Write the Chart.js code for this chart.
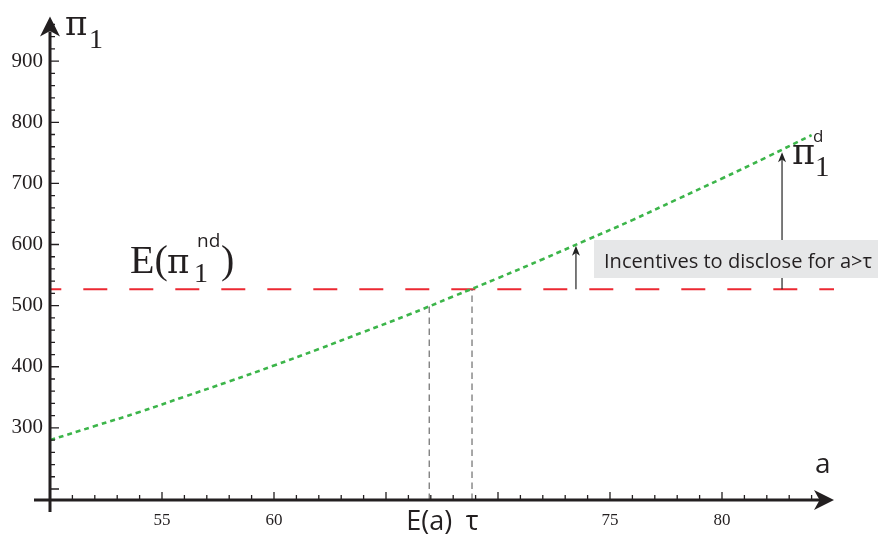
<!DOCTYPE html>
<html><head><meta charset="utf-8">
<script src="https://cdn.jsdelivr.net/npm/chart.js@4/dist/chart.umd.min.js"></script>
<style>html,body{margin:0;padding:0;background:#fff}#wrap{width:882px;height:535px;position:relative}</style>
</head><body><div id="wrap"><canvas id="c" width="882" height="535"></canvas></div>
<script>
// ---- data ----
const aValues        = [50, 52, 54, 56, 58, 60, 62, 64, 66, 68, 70, 72, 74, 76, 78, 80, 82, 84];
const profitDisclose = [280, 303, 326, 351, 376, 402, 429, 457, 485, 515, 545, 576, 608, 640, 674, 708, 743, 779];
const noDiscloseA    = [50, 85];
const noDiscloseVal  = [527, 527];
const xLabelTicks    = [55, 60, 75, 80];
const yLabelTicks    = [300, 400, 500, 600, 700, 800, 900];
const markerA        = [66.93, 68.84];        // E(a), tau
const markerTop      = [499, 527];            // where the dashed drops start
const markerLabels   = ['E(a)', 'τ'];
const arrowA         = [73.48, 82.68];
const arrowTip       = [598, 751];
const boxText        = 'Incentives to disclose for a>τ';

const SERIF = '"Liberation Serif", "DejaVu Serif", serif';
const PI    = '"DejaVu Serif", serif';
const SANS  = '"Open Sans", "Liberation Sans", sans-serif';

function arrowHead(ctx, x, y, dir, len, half, color) {
  ctx.save();
  ctx.fillStyle = color;
  ctx.beginPath();
  if (dir === 'up') {
    ctx.moveTo(x, y);
    ctx.lineTo(x + half, y + len);
    ctx.lineTo(x, y + len * 0.72);
    ctx.lineTo(x - half, y + len);
  } else {
    ctx.moveTo(x, y);
    ctx.lineTo(x - len, y - half);
    ctx.lineTo(x - len * 0.72, y);
    ctx.lineTo(x - len, y + half);
  }
  ctx.closePath();
  ctx.fill();
  ctx.restore();
}

const decor = {
  id: 'decor',
  afterDatasetsDraw(chart) {
    const ctx = chart.ctx;
    const xs = chart.scales.x, ys = chart.scales.y;
    const x0 = xs.getPixelForValue(xs.min), x1 = xs.getPixelForValue(xs.max);
    const y0 = ys.getPixelForValue(ys.min), y1 = ys.getPixelForValue(ys.max);
    ctx.save();
    // dashed drop lines
    ctx.strokeStyle = '#6d6d6d';
    ctx.lineWidth = 1.2;
    ctx.setLineDash([6.5, 4.5]);
    markerA.forEach((a, i) => {
      const px = xs.getPixelForValue(a);
      ctx.beginPath();
      ctx.moveTo(px, y0);
      ctx.lineTo(px, ys.getPixelForValue(markerTop[i]));
      ctx.stroke();
    });
    ctx.setLineDash([]);
    // annotation arrows
    ctx.strokeStyle = '#222';
    ctx.lineWidth = 1.2;
    arrowA.forEach((a, i) => {
      const px = xs.getPixelForValue(a);
      const base = ys.getPixelForValue(noDiscloseVal[0]);
      const tip = ys.getPixelForValue(arrowTip[i]);
      ctx.beginPath();
      ctx.moveTo(px, base);
      ctx.lineTo(px, tip + 6);
      ctx.stroke();
      arrowHead(ctx, px, tip, 'up', 10, 4, '#222');
    });
    // grey box with text
    ctx.fillStyle = '#e6e7e8';
    ctx.fillRect(594, 240, 284, 38);
    ctx.fillStyle = '#231f20';
    let fs = 18;
    ctx.font = fs + 'px ' + SANS;
    const w = ctx.measureText(boxText).width;
    fs = fs * 268 / w;
    ctx.font = fs.toFixed(2) + 'px ' + SANS;
    ctx.textBaseline = 'alphabetic';
    ctx.textAlign = 'left';
    ctx.fillText(boxText, 604, 268);

    // axes
    ctx.strokeStyle = '#231f20';
    ctx.lineWidth = 3;
    ctx.beginPath();
    ctx.moveTo(x0, y0 + 12); ctx.lineTo(x0, y1 + 12);
    ctx.moveTo(x0 - 16, y0); ctx.lineTo(x1 - 10, y0);
    ctx.stroke();
    arrowHead(ctx, x0, y1 - 3, 'up', 20, 10, '#231f20');
    arrowHead(ctx, x1, y0, 'right', 20, 10, '#231f20');
    // tick marks
    ctx.lineWidth = 1.3;
    ctx.beginPath();
    for (let v = 200; v <= 960; v += 20) {
      const py = ys.getPixelForValue(v);
      const len = v % 100 === 0 ? 9 : 5;
      ctx.moveTo(x0, py); ctx.lineTo(x0 + len, py);
    }
    for (let a = 51; a <= 84; a += 1) {
      const px = xs.getPixelForValue(a);
      const len = a % 5 === 0 ? 8 : 5;
      ctx.moveTo(px, y0); ctx.lineTo(px, y0 - len);
    }
    ctx.stroke();

    // marker labels under x axis
    ctx.fillStyle = '#231f20';
    ctx.font = '27px ' + SANS;
    ctx.textAlign = 'center';
    markerLabels.forEach((t, i) => {
      ctx.fillText(t, xs.getPixelForValue(markerA[i]), 530);
    });
    // axis labels
    ctx.textAlign = 'left';
    ctx.font = '28px ' + SANS;
    ctx.fillText('a', 815, 473);
    ctx.font = '34px ' + PI;
    ctx.fillText('π', 65, 35);
    ctx.font = '28px ' + SERIF;
    ctx.fillText('1', 89, 48);
    // E(pi_1^nd)
    ctx.font = '40px ' + SERIF;
    ctx.fillText('E(', 130, 273);
    ctx.font = '34px ' + PI;
    ctx.fillText('π', 167, 273);
    ctx.font = '40px ' + SERIF;
    ctx.fillText(')', 221, 273);
    ctx.font = '28px ' + SERIF;
    ctx.fillText('1', 194, 282);
    ctx.font = '19px ' + SANS;
    ctx.fillText('nd', 197, 247);
    // pi_1^d
    ctx.font = '35px ' + PI;
    ctx.fillText('π', 792, 164);
    ctx.font = '29px ' + SERIF;
    ctx.fillText('1', 815, 176);
    ctx.font = '17px ' + SANS;
    ctx.fillText('d', 813, 142);
    ctx.restore();
  }
};

new Chart(document.getElementById('c'), {
  type: 'line',
  data: {
    datasets: [
      {
        data: aValues.map((a, i) => ({x: a, y: profitDisclose[i]})),
        borderColor: '#3cb54a', borderWidth: 2.6, borderDash: [5, 4],
        pointRadius: 0, tension: 0.4, fill: false
      },
      {
        data: noDiscloseA.map((a, i) => ({x: a, y: noDiscloseVal[i]})),
        borderColor: '#ec2832', borderWidth: 2, borderDash: [24, 22], borderDashOffset: 12.7,
        pointRadius: 0, fill: false
      }
    ]
  },
  options: {
    responsive: false, animation: false, devicePixelRatio: 1,
    layout: {padding: {left: 0, top: 12, right: 48, bottom: 0}},
    plugins: {legend: {display: false}, tooltip: {enabled: false}},
    scales: {
      x: {
        type: 'linear', min: 50, max: 85,
        grid: {display: false, drawTicks: false}, border: {display: false},
        afterFit: s => { s.height = 35; },
        ticks: {
          stepSize: 1, autoSkip: false, maxRotation: 0, includeBounds: false, padding: 10,
          font: {family: SERIF, size: 17}, color: '#231f20',
          callback: v => xLabelTicks.includes(v) ? String(v) : ''
        }
      },
      y: {
        type: 'linear', min: 182, max: 968,
        grid: {display: false, drawTicks: false}, border: {display: false},
        afterFit: s => { s.width = 50; },
        ticks: {
          stepSize: 20, autoSkip: false, includeBounds: false, padding: 7,
          font: {family: SERIF, size: 21}, color: '#231f20',
          callback: v => yLabelTicks.includes(v) ? String(v) : ''
        }
      }
    }
  },
  plugins: [decor]
});
</script>
</body></html>
